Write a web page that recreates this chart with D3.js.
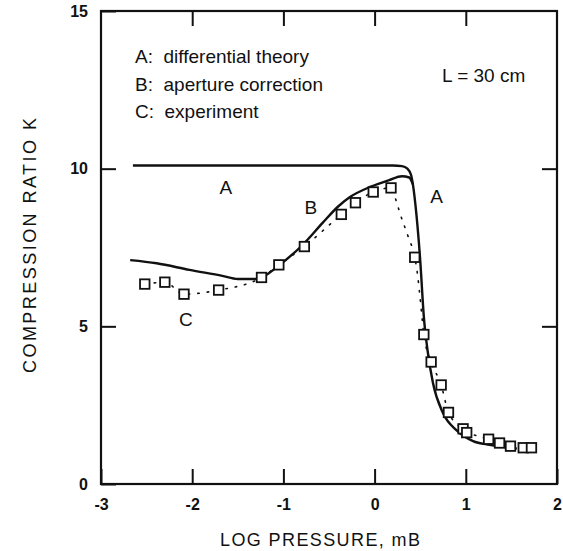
<!DOCTYPE html>
<html>
<head>
<meta charset="utf-8">
<script src="https://cdn.jsdelivr.net/npm/d3@7"></script>
<style>
  html, body { margin: 0; padding: 0; background: #fff; }
  svg { display: block; }
  text { font-family: "Liberation Sans", Arial, Helvetica, sans-serif; fill: #111; }
</style>
</head>
<body>
<svg id="chart" width="563" height="551"></svg>
<script>
// ---- Data ----
const xTicks = [-3, -2, -1, 0, 1, 2];
const yTicks = [0, 5, 10, 15];

// Curve A: differential theory
const theoryX = [-2.65, 0.20, 0.30, 0.36, 0.40, 0.42, 0.46, 0.50, 0.54, 0.58, 0.64, 0.75, 0.90, 1.08, 1.26, 1.51, 1.56];
const theoryK = [10.1, 10.1, 10.08, 10.0, 9.8, 9.5, 8.5, 7.1, 5.3, 4.25, 3.2, 2.25, 1.7, 1.36, 1.24, 1.14, 1.12];

// Curve B: aperture correction (merges into A on the descent)
const apertureX = [-2.68, -2.39, -2.03, -1.67, -1.50, -1.30, -1.19, -1.04, -0.79, -0.57, -0.40, -0.27, -0.05, 0.16, 0.30, 0.38, 0.42];
const apertureK = [7.1, 7.0, 6.79, 6.6, 6.5, 6.5, 6.63, 6.95, 7.58, 8.28, 8.8, 9.1, 9.42, 9.64, 9.76, 9.72, 9.5];

// C: experiment (square markers)
const expX = [-2.52, -2.30, -2.09, -1.71, -1.24, -1.05, -0.77, -0.365, -0.21, -0.015, 0.18, 0.44, 0.54, 0.62, 0.73, 0.81, 0.97, 1.01, 1.25, 1.37, 1.49, 1.63, 1.72];
const expK = [6.34, 6.40, 6.02, 6.15, 6.55, 6.95, 7.53, 8.55, 8.92, 9.26, 9.39, 7.19, 4.74, 3.87, 3.14, 2.27, 1.75, 1.63, 1.42, 1.30, 1.20, 1.15, 1.15];

// Dotted guide through the experiment
const fitX = [-2.52, -2.30, -2.09, -1.71, -1.24, -1.05, -0.77, -0.365, -0.21, -0.015, 0.18, 0.24, 0.28, 0.37, 0.44, 0.47, 0.50, 0.54, 0.62, 0.73, 0.81, 0.97, 1.25, 1.37, 1.49, 1.63, 1.72];
const fitK = [6.34, 6.40, 6.02, 6.15, 6.55, 6.95, 7.53, 8.55, 8.92, 9.26, 9.39, 8.95, 8.57, 7.83, 7.19, 6.66, 5.87, 4.74, 3.87, 3.14, 2.27, 1.75, 1.42, 1.30, 1.20, 1.15, 1.15];

const legendLines = ["A:  differential theory", "B:  aperture correction", "C:  experiment"];
const noteText = "L = 30 cm";
const xTitle = "LOG PRESSURE, mB";
const yTitle = "COMPRESSION RATIO K";
const curveLabels = [
  { t: "A", x: -1.63, k: 9.2 },
  { t: "A", x: 0.68, k: 8.9 },
  { t: "B", x: -0.70, k: 8.55 },
  { t: "C", x: -2.07, k: 5.0 }
];

// ---- Layout ----
const svg = d3.select("#chart");
const pL = 101, pR = 557, pT = 11, pB = 484;
const x = d3.scaleLinear().domain([-3, 2]).range([pL, pR]);
const y = d3.scaleLinear().domain([0, 15]).range([pB, pT]);

const zip = (xs, ys) => xs.map((v, i) => [v, ys[i]]);
const line = d3.line().x(d => x(d[0])).y(d => y(d[1])).curve(d3.curveMonotoneX);

// Frame
svg.append("rect")
  .attr("x", pL).attr("y", pT)
  .attr("width", pR - pL).attr("height", pB - pT)
  .attr("fill", "none").attr("stroke", "#111").attr("stroke-width", 2.2);

// Axes with inward ticks
const fmt = d => String(d);
const gB = svg.append("g").attr("transform", `translate(0,${pB})`)
  .call(d3.axisBottom(x).tickValues(xTicks).tickSize(-15).tickPadding(15).tickFormat(fmt));
const gT = svg.append("g").attr("transform", `translate(0,${pT})`)
  .call(d3.axisTop(x).tickValues(xTicks.slice(1, -1)).tickSize(-15).tickFormat(""));
const gL = svg.append("g").attr("transform", `translate(${pL},0)`)
  .call(d3.axisLeft(y).tickValues(yTicks).tickSize(-15).tickPadding(13).tickFormat(fmt));
const gR = svg.append("g").attr("transform", `translate(${pR},0)`)
  .call(d3.axisRight(y).tickValues(yTicks.slice(1, -1)).tickSize(-15).tickFormat(""));

[gB, gT, gL, gR].forEach(g => {
  g.select(".domain").remove();
  g.selectAll(".tick line").attr("stroke", "#111").attr("stroke-width", 2);
  g.selectAll(".tick text")
    .style("font-family", '"Liberation Sans", Arial, sans-serif')
    .style("font-size", "16px").style("font-weight", "bold").attr("fill", "#111");
});

// Curves
svg.append("path").datum(zip(theoryX, theoryK))
  .attr("d", line).attr("fill", "none").attr("stroke", "#111").attr("stroke-width", 2.4);
svg.append("path").datum(zip(apertureX, apertureK))
  .attr("d", line).attr("fill", "none").attr("stroke", "#111").attr("stroke-width", 2.4);
svg.append("path").datum(zip(fitX, fitK))
  .attr("d", line).attr("fill", "none").attr("stroke", "#111")
  .attr("stroke-width", 1.6).attr("stroke-dasharray", "1.5,8").attr("stroke-linecap", "round");

// Square markers
const s = 9.5;
svg.append("g").selectAll("rect").data(zip(expX, expK)).join("rect")
  .attr("x", d => x(d[0]) - s / 2).attr("y", d => y(d[1]) - s / 2)
  .attr("width", s).attr("height", s)
  .attr("fill", "#fff").attr("stroke", "#111").attr("stroke-width", 1.8);

// Curve labels
svg.append("g").selectAll("text").data(curveLabels).join("text")
  .attr("x", d => x(d.x)).attr("y", d => y(d.k))
  .attr("text-anchor", "middle")
  .style("font-size", "19px").text(d => d.t);

// Legend
svg.append("g").selectAll("text").data(legendLines).join("text")
  .attr("x", 135).attr("y", (d, i) => 63 + i * 27.5)
  .style("font-size", "19px").style("white-space", "pre").text(d => d);

svg.append("text").attr("x", 442).attr("y", 82)
  .style("font-size", "19px").text(noteText);

// Axis titles
svg.append("text").attr("x", 220).attr("y", 546)
  .style("font-size", "18px")
  .attr("textLength", 200).attr("lengthAdjust", "spacing").text(xTitle);
svg.append("text")
  .attr("transform", `translate(36,373) rotate(-90)`)
  .style("font-size", "18px")
  .attr("textLength", 255).attr("lengthAdjust", "spacing").text(yTitle);
</script>
</body>
</html>
